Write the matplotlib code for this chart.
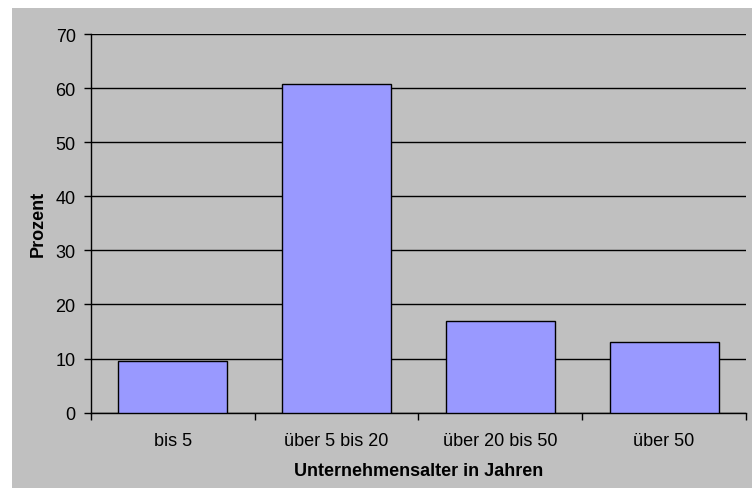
import matplotlib

matplotlib.use("Agg")

import matplotlib.pyplot as plt
from matplotlib.patches import Rectangle

# Share of firms by company age (percent)
categories = ["bis 5", "über 5 bis 20", "über 20 bis 50", "über 50"]
percent = [9.5, 60.8, 16.9, 13.0]
y_ticks = [0, 10, 20, 30, 40, 50, 60, 70]

plt.rcParams["font.family"] = ["Liberation Sans", "DejaVu Sans"]

fig = plt.figure(figsize=(7.52, 4.89), dpi=100)
fig.patch.set_facecolor("white")
# grey chart area, leaving a thin white margin top and left
fig.patches.append(Rectangle((12 / 752, 0), 1 - 12 / 752, 1 - 9 / 489,
                             transform=fig.transFigure, facecolor="#c0c0c0",
                             edgecolor="none", zorder=-10))

ax = fig.add_axes([91 / 752, 1 - 413.6 / 489, (746 - 91) / 752, (413.6 - 35) / 489])
ax.set_facecolor("#c0c0c0")

x = range(len(categories))
ax.bar(x, percent, width=0.667, color="#9999ff", edgecolor="black", linewidth=1.0, zorder=3)

ax.set_xlim(-0.5, len(categories) - 0.5)
ax.set_ylim(0, 70)
ax.set_yticks(y_ticks)
ax.yaxis.grid(True, color="black", linewidth=1.0, zorder=0)
ax.set_axisbelow(True)

# category labels centred, tick marks between categories
ax.set_xticks(list(x))
ax.set_xticklabels(categories)
ax.tick_params(axis="x", length=0, pad=14, labelsize=13)
ax.set_xticks([i - 0.5 for i in range(len(categories) + 1)], minor=True)
ax.tick_params(axis="x", which="minor", length=5, width=1.0, direction="out")
ax.tick_params(axis="y", length=5, width=1.0, direction="out", labelsize=13, pad=6)

for side in ("top", "right"):
    ax.spines[side].set_visible(False)
for side in ("left", "bottom"):
    ax.spines[side].set_linewidth(1.0)

ax.set_xlabel("Unternehmensalter in Jahren", fontsize=13, fontweight="bold", labelpad=9.5)
ax.set_ylabel("Prozent", fontsize=13, fontweight="bold", labelpad=6)

fig.savefig("out.png", dpi=100, facecolor=fig.get_facecolor())
